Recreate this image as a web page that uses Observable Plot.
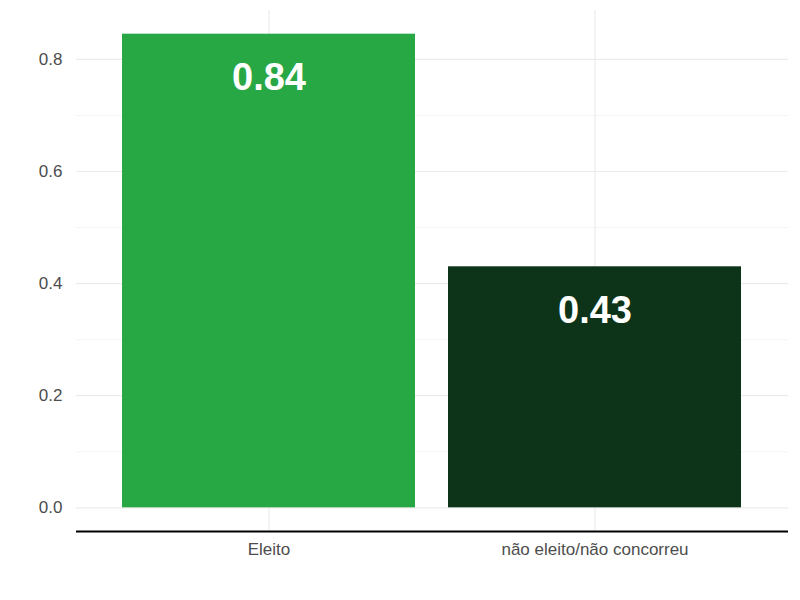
<!DOCTYPE html>
<html>
<head>
<meta charset="utf-8">
<script src="https://cdn.jsdelivr.net/npm/d3@7"></script>
<script src="https://cdn.jsdelivr.net/npm/@observablehq/plot@0.6"></script>
<style>
  html, body { margin: 0; padding: 0; background: #fff; }
  svg { display: block; }
</style>
</head>
<body>
<div id="chart"></div>
<script>
const categories = ["Eleito", "não eleito/não concorreu"];
const values = [0.845, 0.43];
const valueLabels = ["0.84", "0.43"];
const barColors = ["#28a745", "#0d3318"];
const majorTicks = [0, 0.2, 0.4, 0.6, 0.8];
const minorTicks = [0.1, 0.3, 0.5, 0.7];
const tickLabels = ["0.0", "0.2", "0.4", "0.6", "0.8"];

const data = categories.map((c, i) => ({cat: c, value: values[i], label: valueLabels[i]}));
const yMin = -0.05 * 0.845, yMax = 0.845 * 1.05;

const chart = Plot.plot({
  width: 800,
  height: 600,
  marginLeft: 76,
  marginRight: 12,
  marginTop: 10,
  marginBottom: 69,
  style: {fontFamily: "'Liberation Sans', Arial, sans-serif", background: "#fff"},
  x: {domain: categories, padding: 0.1, paddingOuter: 0.142, label: null},
  y: {domain: [yMin, yMax], label: null},
  color: {domain: categories, range: barColors},
  marks: [
    Plot.ruleY(minorTicks, {stroke: "#f4f4f4", strokeWidth: 1}),
    Plot.ruleY(majorTicks, {stroke: "#ebebeb", strokeWidth: 1.2}),
    Plot.gridX({stroke: "#ebebeb", strokeOpacity: 1, strokeWidth: 1.2}),
    Plot.barY(data, {x: "cat", y: "value", fill: "cat"}),
    Plot.text(data, {x: "cat", y: "value", text: "label", dy: 44, fill: "white", fontSize: 38, fontWeight: "bold", lineAnchor: "middle"}),
    Plot.ruleY([yMin], {stroke: "black", strokeWidth: 2}),
    Plot.axisY(majorTicks, {tickSize: 0, tickPadding: 14, fontSize: 17, fill: "#4d4d4d", tickFormat: (d) => tickLabels[majorTicks.indexOf(d)]}),
    Plot.axisX({tickSize: 0, tickPadding: 11, fontSize: 17, fill: "#4d4d4d"})
  ]
});
document.getElementById("chart").appendChild(chart);
</script>
</body>
</html>
